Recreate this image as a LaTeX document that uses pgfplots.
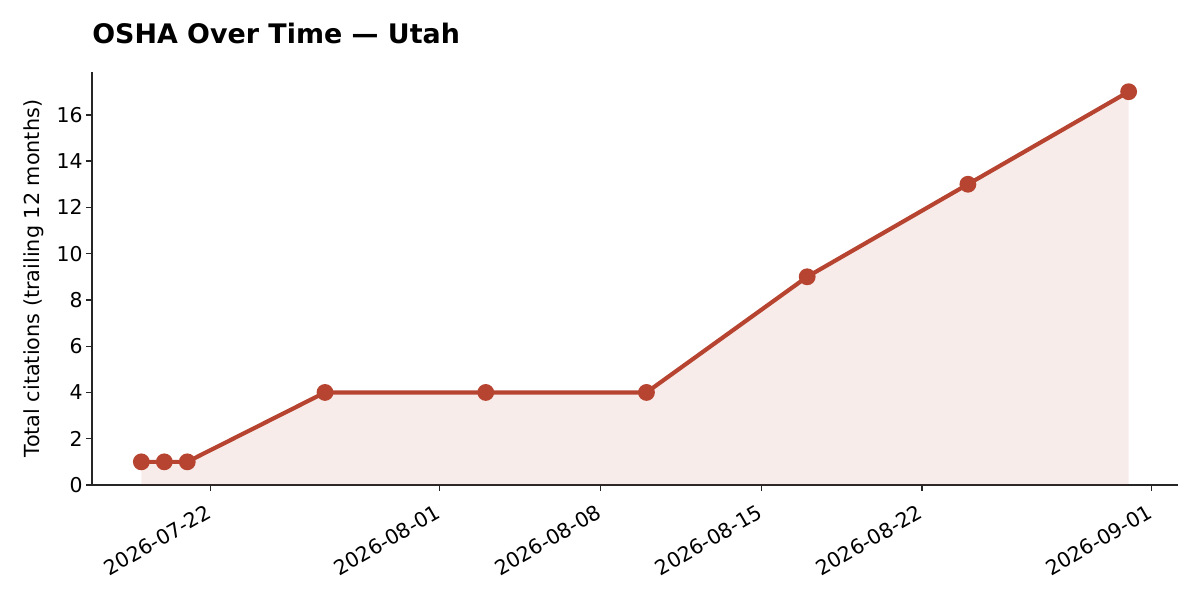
\documentclass[border=0pt]{standalone}
\usepackage{pgfplots}
\usepackage{pgfplotstable}
\pgfplotsset{compat=1.18}
\usepackage{fontspec}
\setmainfont{DejaVu Sans}
\definecolor{osha}{RGB}{183,68,48}

% days counted from 2026-07-22
\pgfplotstableread{
day total
-3 1
-2 1
-1 1
5 4
12 4
19 4
26 9
33 13
40 17
}\utah

\begin{document}
\begin{tikzpicture}
\path[use as bounding box] (-55.4pt,-69.3pt) rectangle (667.35pt,292.1pt);
\begin{axis}[
    scale only axis,
    width=654.1pt, height=248.7pt,
    xmin=-5.15, xmax=42.15, ymin=0, ymax=17.85,
    axis x line*=bottom, axis y line*=left,
    axis line style={line width=0.9pt, black!85},
    tick align=outside,
    major tick length=3.5pt,
    every tick/.style={black!85, line width=0.8pt},
    xtick={0,10,17,24,31,41},
    xticklabels={2026-07-22,2026-08-01,2026-08-08,2026-08-15,2026-08-22,2026-09-01},
    ytick={0,2,...,16},
    tick label style={font=\fontsize{12.3}{14}\selectfont},
    /pgf/number format/assume math mode=true,
    xticklabel style={rotate=30, anchor=north east, inner sep=2pt, xshift=-4.5pt, yshift=-3pt},
    yticklabel style={inner sep=2pt},
    ylabel={Total citations (trailing 12 months)},
    ylabel style={font=\fontsize{12.5}{14}\selectfont, inner sep=0pt},
    ylabel shift=5.4pt,
    clip=false,
]
\addplot[draw=none, fill=osha, fill opacity=0.1] table[x=day, y=total] {\utah} \closedcycle;
\addplot[osha, line width=2.5pt, mark=*, mark size=3.8pt, mark options={solid, fill=osha, draw=none}] table[x=day, y=total] {\utah};
\node[anchor=base west, inner sep=0pt, font=\fontsize{16.2}{18}\selectfont\bfseries]
    at (rel axis cs:0,1) [yshift=16.9pt] {OSHA Over Time — Utah};
\end{axis}
\end{tikzpicture}
\end{document}
